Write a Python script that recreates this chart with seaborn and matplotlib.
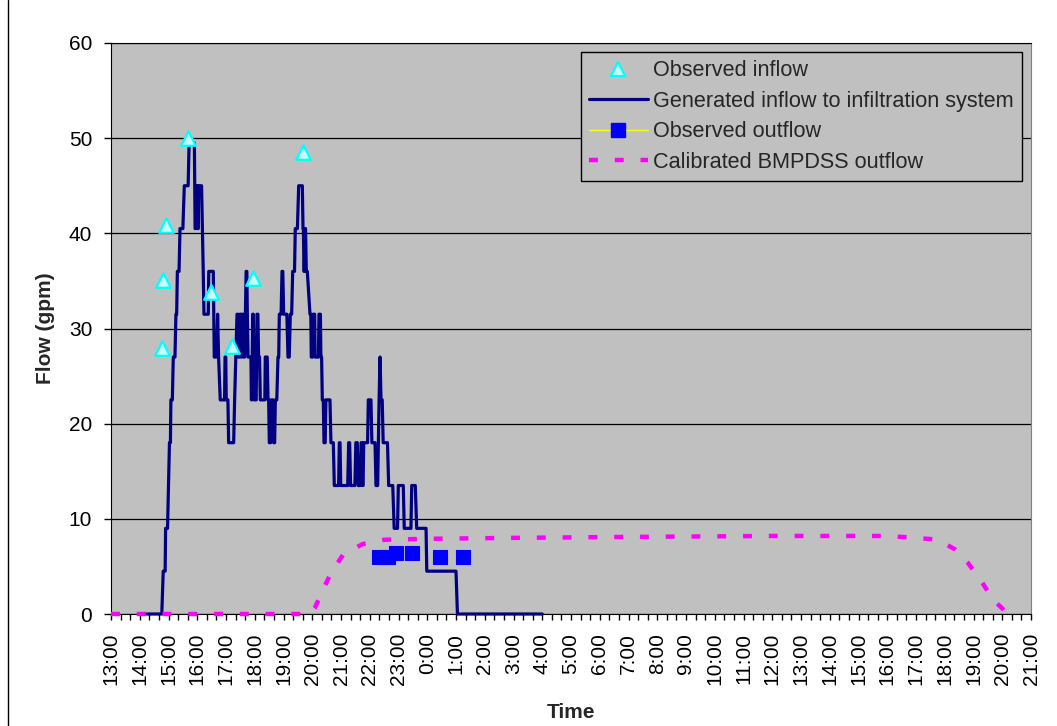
"""
Observed vs generated inflow and calibrated BMPDSS outflow
"""

import matplotlib.pyplot as plt
from matplotlib.lines import Line2D
import seaborn as sns

# Time is in minutes after 13:00 of the first day
inflow_min = [60, 106, 109, 113, 114, 118, 120, 122, 124, 125, 128, 130, 133.5,
              135.5, 137, 138.5, 142, 144, 150, 153, 161, 163, 174,
              175.5, 177, 178.5, 180, 181, 182, 183, 189, 192.5, 194, 203, 204,
              213.5, 215.5, 220.5, 222.5, 224.5, 228, 237, 238, 239.5, 240.5,
              244, 245.5, 256,
              258, 260.5, 263, 265, 266, 268, 269, 271, 272, 273, 274, 276, 277,
              279, 280.5, 282, 283.5, 284.5, 286, 292, 293, 294, 295.7, 297, 299,
              303, 304.7, 306.5, 308, 310, 311.6, 321, 322, 326, 327.7, 329,
              330.4, 333, 334.5, 338, 339.5, 341.5,
              343, 346, 348.5, 350, 351.3, 355, 356.9, 358.5, 360.4, 367, 369.4,
              372, 374.2, 377, 379.2, 383, 384.6, 389, 391.7, 399.3, 400.7,
              401.5, 402.8, 403.5, 404.9, 406, 407.6, 409.7, 415.3,
              417, 418, 421, 422, 425, 426, 433, 434, 437, 438, 439.5, 441, 443,
              444.5, 447, 448.5, 457, 459, 464, 466, 475, 476.5, 478, 479.4, 494,
              496, 498, 500, 509, 511, 514, 516, 520, 522, 523.5, 525, 526, 527.5,
              535.5, 537, 542.5, 544.5, 551, 553, 556.5,
              558, 559.5, 561.5, 563.5, 566, 568, 577, 579.5, 588, 591, 598,
              599.6, 610, 612, 626, 627.6, 635, 638, 657.5, 659, 720, 723, 900]
inflow_gpm = [0, 0, 4.5, 4.5, 9, 9, 13.5, 18, 18, 22.5, 22.5, 27, 27,
              31.5, 31.5, 36, 36, 40.5, 40.5, 45, 45, 49.5, 49.5,
              40.5, 40.5, 45, 45, 40.5, 40.5, 45, 45, 36, 31.5, 31.5, 36,
              36, 27, 27, 31.5, 27, 22.5, 22.5, 27, 27, 22.5,
              22.5, 18, 18,
              22.5, 27, 31.5, 31.5, 27, 27, 31.5, 31.5, 27, 27, 31.5, 31.5, 27,
              27, 31.5, 36, 36, 31.5, 27, 27, 22.5, 22.5, 31.5, 31.5, 22.5,
              22.5, 31.5, 31.5, 27, 27, 22.5, 22.5, 27, 27, 22.5, 22.5,
              18, 18, 22.5, 22.5, 18, 18,
              22.5, 22.5, 27, 27, 31.5, 31.5, 36, 36, 31.5, 31.5, 27,
              27, 31.5, 31.5, 36, 36, 40.5, 40.5, 45, 45, 40.5,
              40.5, 36, 36, 40.5, 40.5, 36, 36, 31.5,
              31.5, 27, 27, 31.5, 31.5, 27, 27, 31.5, 31.5, 27, 27, 22.5, 22.5,
              18, 18, 22.5, 22.5, 18, 18, 13.5, 13.5, 18, 18, 13.5, 13.5,
              18, 18, 13.5, 13.5, 18, 18, 13.5, 13.5, 18, 18, 13.5, 13.5, 18,
              18, 22.5, 22.5, 18, 18, 13.5, 13.5,
              18, 22.5, 27, 22.5, 22.5, 18, 18, 13.5, 13.5, 9, 9,
              13.5, 13.5, 9, 9, 13.5, 13.5, 9, 9, 4.5, 4.5, 0, 0]

obs_in_min = [106, 109, 115, 161, 209, 253, 296, 401]
obs_in_gpm = [27.9, 35.1, 40.9, 50.0, 33.8, 28.2, 35.3, 48.5]

obs_out_min = [559, 579, 595, 629, 687, 735]
obs_out_gpm = [6.0, 6.0, 6.4, 6.4, 6.0, 6.0]

bmp_min = [0, 415, 425, 442, 459, 484, 525, 570, 660, 840, 1080, 1380, 1617,
           1666, 1716, 1740, 1761, 1788, 1817, 1841, 1868, 1880]
bmp_gpm = [0, 0, 0.6, 2.5, 4.3, 6.2, 7.35, 7.8, 7.9, 8.0, 8.1, 8.2, 8.2,
           8.05, 7.85, 7.4, 6.8, 5.4, 3.4, 1.5, 0.2, 0]

LABELS = ['Observed inflow', 'Generated inflow to infiltration system',
          'Observed outflow', 'Calibrated BMPDSS outflow']

sns.set_style('white', {'axes.facecolor': '#C0C0C0'})
plt.rcParams['font.family'] = ['Liberation Sans', 'DejaVu Sans']

fig = plt.figure(figsize=(10.57, 7.26), dpi=100)
ax = fig.add_axes([111 / 1057, 1 - 614 / 726, 920 / 1057, 571 / 726])

# Series
sns.lineplot(x=inflow_min, y=inflow_gpm, estimator=None, sort=False,
             color='#000080', lw=2.3, ax=ax, clip_on=False, zorder=3)
sns.lineplot(x=bmp_min, y=bmp_gpm, estimator=None, sort=False,
             color='#FF00FF', lw=3.2, linestyle=(0, (2.0, 3.8)), ax=ax,
             clip_on=False, zorder=4)
sns.scatterplot(x=obs_out_min, y=obs_out_gpm, marker='s', s=100,
                color='#0000FF', edgecolor='#0000FF', ax=ax, zorder=5)
sns.scatterplot(x=obs_in_min, y=obs_in_gpm, marker='^', s=110,
                color='#CCFFFF', edgecolor='#00FFFF', linewidth=1.6, ax=ax,
                zorder=6)

# Axes
ax.set_xlim(0, 1920)
ax.set_ylim(0, 60)
ticks = list(range(0, 1921, 20))
ax.set_xticks(ticks)
ax.set_xticklabels([f'{(13 + t // 60) % 24}:00' if t % 60 == 0 else ''
                    for t in ticks], rotation=90, fontsize=15)
ax.set_yticks(range(0, 61, 10))
ax.set_yticklabels([str(v) for v in range(0, 61, 10)], fontsize=15)
ax.tick_params(axis='x', direction='out', length=4.5, width=1, pad=9,
               bottom=True, colors='black')
ax.tick_params(axis='y', direction='out', length=5, width=1, pad=8.5,
               left=True, colors='black')
ax.yaxis.grid(True, color='black', lw=0.9)
ax.set_axisbelow(True)
for side in ['left', 'bottom', 'top']:
    ax.spines[side].set_color('black')
ax.spines['right'].set_color('#808080')

ax.set_xlabel('Time', fontsize=15, fontweight='bold')
ax.set_ylabel('Flow (gpm)', fontsize=15, fontweight='bold')
ax.xaxis.set_label_coords(0.5, -0.156)
ax.yaxis.set_label_coords(-0.061, 0.5)

# Legend
handles = [
    Line2D([], [], ls='none', marker='^', ms=10.5, mfc='#CCFFFF',
           mec='#00FFFF', mew=1.6),
    Line2D([], [], color='#000080', lw=2.3),
    Line2D([], [], color='#FFFF00', lw=1, marker='s', ms=9.5,
           mfc='#0000FF', mec='#0000FF'),
    Line2D([], [], color='#FF00FF', lw=3.2, ls=(0, (2.0, 3.8))),
]
leg = ax.legend(handles, LABELS, loc='upper right',
                bbox_to_anchor=(0.990, 0.984), fontsize=15.6, frameon=True,
                fancybox=False, framealpha=1, edgecolor='black',
                handlelength=2.7, handletextpad=0.25, labelspacing=0.44,
                borderpad=0.38, borderaxespad=0)
leg.get_frame().set_linewidth(1)

# Chart-area border on the left edge
fig.add_artist(Line2D([7.5 / 1057, 7.5 / 1057], [0, 1], color='black', lw=1,
                      transform=fig.transFigure))

fig.savefig('out.png', dpi=100)
